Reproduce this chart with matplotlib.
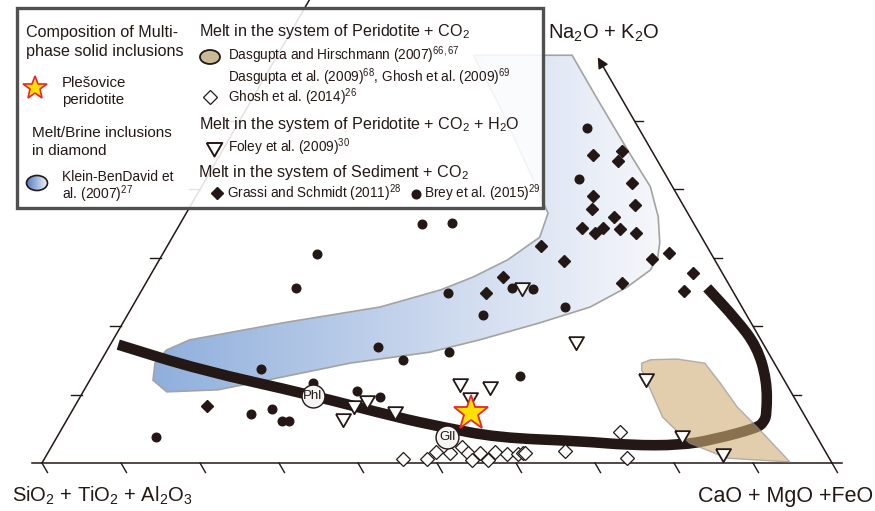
import numpy as np
import matplotlib
matplotlib.use('Agg')
import matplotlib.pyplot as plt
from matplotlib.patches import Polygon, Ellipse, Rectangle, PathPatch
from matplotlib.path import Path
from matplotlib.colors import LinearSegmentedColormap

plt.rcParams['font.family'] = 'Liberation Sans'
plt.rcParams['mathtext.fontset'] = 'custom'
plt.rcParams['mathtext.rm'] = 'Liberation Sans'
plt.rcParams['mathtext.it'] = 'Liberation Sans:italic'
plt.rcParams['mathtext.bf'] = 'Liberation Sans:bold'

INK = '#231815'

# compositions in wt% : CaO+MgO+FeO (cmf) and Na2O+K2O (alk)
brey_cmf = [44.5, 47.2, 30.7, 34.4, 19.5, 19.4, 38.9, 46.7, 49.5, 45.0, 54.8, 43.4,
            34.0, 38.1, 20.9, 54.2, 28.4, 34.6, 38.0, 22.9, 25.2, 27.3, 28.2, 12.5]
brey_alk = [49.0, 41.5, 34.9, 35.1, 30.6, 25.6, 24.9, 25.6, 25.4, 21.6, 22.8, 16.2,
            17.0, 15.1, 13.7, 12.7, 11.7, 10.5, 9.6, 7.2, 7.9, 6.1, 6.1, 3.8]

grassi_cmf = [47.2, 50.6, 50.8, 54.2, 50.2, 56.2, 51.1, 54.4, 51.2, 53.2, 53.8, 56.1,
              58.4, 47.3, 51.3, 62.3, 64.0, 44.8, 43.8, 60.3, 68.5, 68.7, 16.7]
grassi_alk = [45.0, 45.6, 44.2, 40.9, 39.0, 37.7, 37.1, 36.0, 34.4, 33.6, 34.4, 34.2,
              33.6, 31.7, 29.5, 29.8, 30.7, 27.2, 24.9, 26.3, 27.8, 25.1, 8.3]

foley_cmf = [47.9, 58.7, 47.0, 51.1, 49.4, 70.3, 79.0, 85.5, 34.8, 35.2, 36.5, 40.9]
foley_alk = [25.7, 17.8, 11.7, 11.3, 9.6, 12.4, 4.1, 1.5, 6.6, 8.5, 9.2, 7.6]

ghosh_cmf = [45.4, 48.4, 49.1, 50.9, 52.0, 53.2, 54.2, 54.7, 56.3, 56.5, 58.2, 59.6,
             60.1, 60.5, 65.3, 70.9, 73.7]
ghosh_alk = [0.6, 0.6, 1.6, 1.5, 2.3, 1.5, 0.4, 1.5, 0.4, 1.6, 1.3, 1.3,
             1.5, 1.4, 1.8, 4.5, 0.7]

# thick trend line through the diagram
trend_cmf = [1.0, 13.2, 29.3, 41.5, 47.8, 55.8, 66.5, 73.1, 79.5, 83.2, 87.9, 88.4,
             88.1, 85.7, 82.0, 77.5, 71.4]
trend_alk = [17.3, 13.6, 9.9, 6.7, 5.3, 3.7, 3.2, 2.6, 2.6, 3.4, 5.1, 6.0,
             7.3, 12.1, 17.0, 20.9, 25.6]

# melt/brine inclusions in diamond (Klein-BenDavid et al. 2007) field
kbd_cmf = [24.8, 37.3, 43.8, 51.2, 56.8, 60.0, 62.1, 62.9, 62.9, 61.2, 59.1, 58.0,
           52.8, 46.4, 41.0, 31.7, 22.4, 16.9, 10.6, 8.0, 7.0, 7.5, 9.7, 20.3,
           31.4, 37.8, 41.0, 44.1, 46.5, 45.8, 41.5, 32.0]
kbd_alk = [59.6, 59.6, 53.1, 45.8, 40.4, 36.0, 32.2, 30.1, 28.2, 25.7, 23.8, 22.8,
           20.5, 18.0, 16.2, 14.6, 12.1, 10.7, 10.4, 12.1, 14.6, 16.5, 18.0, 20.5,
           22.8, 25.3, 27.2, 29.7, 33.0, 36.5, 41.4, 52.0]

# Dasgupta & Hirschmann field
dh_cmf = [68.6, 69.5, 72.8, 76.6, 80.0, 83.9, 88.5, 94.6, 86.4, 80.5, 75.2, 72.1, 69.1]
dh_alk = [14.6, 15.1, 15.2, 14.6, 11.7, 8.2, 4.8, 0.15, 0.7, 2.9, 6.7, 10.2, 13.6]

star_cmf, star_alk = [50.6], [7.3]
phases = ['Phl', 'Gll']
phase_cmf = [29.4, 49.4]
phase_alk = [9.8, 3.8]


def tern(cmf, alk):
    cmf = np.asarray(cmf, float) / 100
    alk = np.asarray(alk, float) / 100
    return cmf + alk / 2, alk * np.sqrt(3) / 2


def smooth_path(x, y):
    # quadratic b-spline style path: the given points act as control points
    pts = np.column_stack([x, y])
    verts = [pts[0], (pts[0] + pts[1]) / 2]
    codes = [Path.MOVETO, Path.LINETO]
    for i in range(1, len(pts) - 1):
        verts += [pts[i], (pts[i] + pts[i + 1]) / 2]
        codes += [Path.CURVE3, Path.CURVE3]
    verts.append(pts[-1])
    codes.append(Path.LINETO)
    return Path(verts, codes)


fig = plt.figure(figsize=(8.75, 5.11), dpi=100)
ax = fig.add_axes([0, 0, 1, 1])
ax.axis('off')

# blue inclusion field with horizontal gradient
kx, ky = tern(kbd_cmf, kbd_alk)
kbd = Polygon(np.column_stack([kx, ky]), closed=True, facecolor='none',
              edgecolor='#a3a3a3', lw=1.2, zorder=2)
ax.add_patch(kbd)
blues = LinearSegmentedColormap.from_list('kbd', ['#8fafdc', '#c5d4ec', '#f6f7fb'])
grad = np.linspace(0, 1, 256).reshape(1, -1)
im = ax.imshow(grad, extent=[kx.min(), kx.max(), ky.min(), ky.max()], cmap=blues,
               aspect='auto', zorder=1, interpolation='bilinear')
im.set_clip_path(kbd)

# thick trend line
tx, ty = tern(trend_cmf, trend_alk)
ax.add_patch(PathPatch(smooth_path(tx, ty), fill=False, edgecolor=INK, lw=7.6,
                       capstyle='butt', joinstyle='round', zorder=3))

# Dasgupta & Hirschmann field over the line
dx, dy = tern(dh_cmf, dh_alk)
ax.add_patch(Polygon(np.column_stack([dx, dy]), closed=True, facecolor='#cfae76',
                     edgecolor='#8a8a8a', lw=1.0, alpha=0.6, zorder=4))

# triangle frame
h = np.sqrt(3) / 2
ax.plot([-0.013, 1.013], [0, 0], color=INK, lw=1.1, zorder=2)
ax.plot([0, 0.5], [0, h], color=INK, lw=1.1, zorder=2)
tipx, tipy = tern([40.7], [59.3])
ax.annotate('', xy=(tipx[0], tipy[0]), xytext=(1, 0),
            arrowprops=dict(arrowstyle='-|>', lw=1.1, color=INK,
                            mutation_scale=16, shrinkA=0, shrinkB=0), zorder=2)

tl = 11 / 790
for i in range(11):
    x0 = i / 10
    ax.plot([x0, x0 + 0.5 * tl], [0, -h * tl], color=INK, lw=1.0, zorder=2)
for i in range(1, 6):
    lx, ly = tern([0], [i * 10])
    ax.plot([lx[0], lx[0] - tl], [ly[0], ly[0]], color=INK, lw=1.0, zorder=2)
    rx, ry = tern([100 - i * 10], [i * 10])
    ax.plot([rx[0], rx[0] + 0.8 * tl], [ry[0], ry[0]], color=INK, lw=1.0, zorder=2)

# data points
tri = [(-1, 0.577), (1, 0.577), (0, -1.155), (-1, 0.577)]
x, y = tern(ghosh_cmf, ghosh_alk)
ax.plot(x, y, 'D', ms=7.4, mfc='white', mec=INK, mew=0.9, ls='none', zorder=5)
x, y = tern(brey_cmf, brey_alk)
ax.plot(x, y, 'o', ms=6.2, color=INK, ls='none', zorder=5)
x, y = tern(grassi_cmf, grassi_alk)
ax.plot(x, y, 'D', ms=6.2, color=INK, ls='none', zorder=5)
x, y = tern(foley_cmf, foley_alk)
ax.plot(x, y, marker=tri, ms=12.5, mfc='white', mec=INK, mew=1.3, ls='none', zorder=6)

x, y = tern(phase_cmf, phase_alk)
for name, px, py in zip(phases, x, y):
    ax.plot(px, py, 'o', ms=16.5, mfc='#f4f4f4', mec=INK, mew=1.0, zorder=7)
    ax.text(px, py, name, fontsize=9.5, ha='center', va='center', color=INK, zorder=8)

x, y = tern(star_cmf, star_alk)
ax.plot(x, y, '*', ms=26, mfc='#ffe100', mec='#e8262a', mew=1.3, zorder=8)

# axis labels
ax.text(-30 / 790, -39 / 790, 'SiO$_2$ + TiO$_2$ + Al$_2$O$_3$',
        fontsize=14.5, ha='left', va='baseline', color=INK)
ax.text(1 - 134 / 790, -39 / 790, 'CaO + MgO +FeO', fontsize=15.5, ha='left',
        va='baseline', color=INK)
ax.text(tipx[0] - 50 / 790, tipy[0] + 19 / 790, 'Na$_2$O + K$_2$O', fontsize=14.5,
        ha='left', va='baseline', color=INK)

ax.set_xlim(-42 / 790, 833 / 790)
ax.set_ylim(-48 / 790, 463 / 790)

# legend panel drawn in pixel layout coordinates
lax = fig.add_axes([0, 0, 1, 1], zorder=5)
lax.set_xlim(0, 875)
lax.set_ylim(511, 0)
lax.axis('off')
lax.patch.set_alpha(0)
lax.add_patch(Rectangle((17, 8), 526, 200, facecolor='white', alpha=0.88,
                        edgecolor='none', zorder=1))
lax.add_patch(Rectangle((17, 8), 526, 200, facecolor='none', edgecolor='#505050',
                        lw=2.4, zorder=2))

big, small, mid = 11.6, 9.8, 10.8
lax.text(26, 37, 'Composition of Multi-', fontsize=big, va='baseline', color=INK)
lax.text(26, 56, 'phase solid inclusions', fontsize=big, va='baseline', color=INK)
lax.plot(35, 88, '*', ms=18, mfc='#ffe100', mec='#e8262a', mew=1.2)
lax.text(62, 87, 'Plešovice', fontsize=mid, va='baseline', color=INK)
lax.text(62, 104, 'peridotite', fontsize=mid, va='baseline', color=INK)
lax.text(32, 137, 'Melt/Brine inclusions', fontsize=11.0, va='baseline', color=INK)
lax.text(32, 155, 'in diamond', fontsize=11.0, va='baseline', color=INK)
ell = Ellipse((37, 183), 21, 15, facecolor='none', edgecolor=INK, lw=1.2, zorder=4)
lax.add_patch(ell)
eim = lax.imshow(grad, extent=[26, 48, 191, 175],
                 cmap=LinearSegmentedColormap.from_list('e', ['#4f7bc0', '#f2f5fb']),
                 aspect='auto', zorder=3)
eim.set_clip_path(ell)
lax.text(62, 181, 'Klein-BenDavid et', fontsize=10.0, va='baseline', color=INK)
lax.text(62, 199, 'al. (2007)$^{27}$', fontsize=10.0, va='baseline', color=INK)

lax.text(199, 36, 'Melt in the system of Peridotite + CO$_2$', fontsize=big,
         va='baseline', color=INK)
lax.add_patch(Ellipse((210, 57), 20, 14, facecolor='#c9b994', edgecolor=INK, lw=1.3))
lax.text(228, 60.5, 'Dasgupta and Hirschmann (2007)$^{66,67}$', fontsize=small,
         va='baseline', color=INK)
lax.text(228, 81.5, 'Dasgupta et al. (2009)$^{68}$, Ghosh et al. (2009)$^{69}$',
         fontsize=small, va='baseline', color=INK)
lax.plot(210, 97, 'D', ms=7.5, mfc='white', mec=INK, mew=0.9)
lax.text(228, 102.5, 'Ghosh et al. (2014)$^{26}$', fontsize=small, va='baseline',
         color=INK)
lax.text(199, 129, 'Melt in the system of Peridotite + CO$_2$ + H$_2$O', fontsize=big,
         va='baseline', color=INK)
lax.plot(214, 147, marker=tri, ms=13, mfc='white', mec=INK, mew=1.4)
lax.text(228, 152, 'Foley et al. (2009)$^{30}$', fontsize=small, va='baseline', color=INK)
lax.text(198, 177, 'Melt in the system of Sediment + CO$_2$', fontsize=big,
         va='baseline', color=INK)
lax.plot(217, 193, 'D', ms=6.2, color=INK)
lax.text(227, 198, 'Grassi and Schmidt (2011)$^{28}$', fontsize=small, va='baseline',
         color=INK)
lax.plot(416, 194, 'o', ms=6.2, color=INK)
lax.text(424, 198, 'Brey et al. (2015)$^{29}$', fontsize=small, va='baseline', color=INK)

fig.savefig('out.png', dpi=100)
